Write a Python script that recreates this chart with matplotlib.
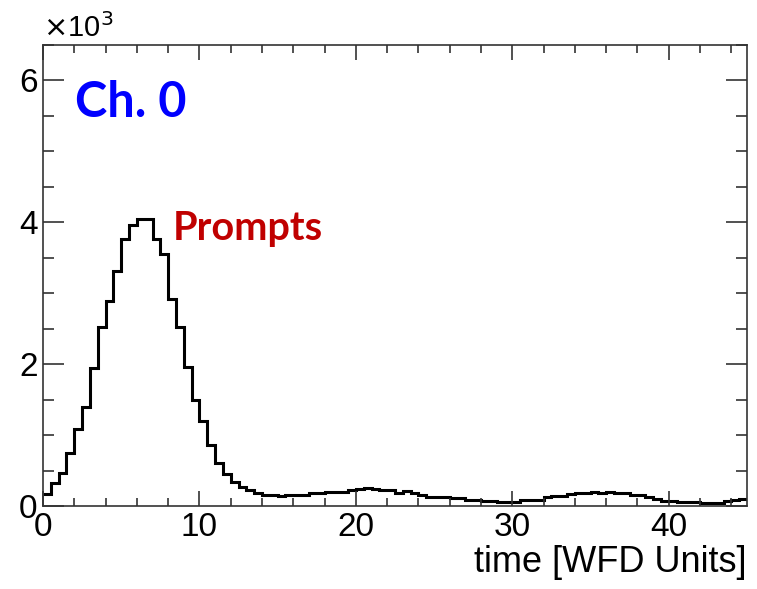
import numpy as np
import matplotlib
matplotlib.use("Agg")
import matplotlib.pyplot as plt
from matplotlib.ticker import MultipleLocator, FuncFormatter

# --- data: counts per 0.5-unit bin (in thousands) ---
x_min, x_max, n_bins = 0.0, 45.0, 90
counts_k = [
    0.17, 0.33, 0.46, 0.75, 1.09, 1.40, 1.94, 2.52, 2.89, 3.31,
    3.77, 3.96, 4.05, 4.05, 3.77, 3.56, 2.92, 2.52, 1.96, 1.49,
    1.20, 0.86, 0.60, 0.45, 0.34, 0.27, 0.22, 0.18, 0.16, 0.16,
    0.14, 0.15, 0.16, 0.16, 0.18, 0.18, 0.20, 0.20, 0.20, 0.23,
    0.24, 0.26, 0.24, 0.23, 0.23, 0.19, 0.21, 0.19, 0.15, 0.13,
    0.13, 0.12, 0.11, 0.11, 0.09, 0.08, 0.07, 0.07, 0.056, 0.056,
    0.056, 0.09, 0.085, 0.09, 0.12, 0.14, 0.14, 0.17, 0.19, 0.19,
    0.20, 0.19, 0.20, 0.18, 0.18, 0.16, 0.16, 0.13, 0.10, 0.075,
    0.075, 0.056, 0.056, 0.056, 0.047, 0.047, 0.047, 0.07, 0.085, 0.10,
]
counts = np.array(counts_k) * 1000
edges = np.linspace(x_min, x_max, n_bins + 1)

channel_label = "Ch. 0"
peak_label = "Prompts"
x_title = "time [WFD Units]"

plt.rcParams['font.family'] = ['Liberation Sans', 'DejaVu Sans']

fig = plt.figure(figsize=(7.57, 5.89), dpi=100)
ax = fig.add_axes([43 / 757, 1 - 506 / 589, (747 - 43) / 757, (506 - 45) / 589])

ax.stairs(counts, edges, baseline=None, color='black', linewidth=2.2)

ax.set_xlim(x_min, x_max)
ax.set_ylim(0, 6500)

# ROOT-like ticks on all sides, pointing in
ax.xaxis.set_major_locator(MultipleLocator(10))
ax.xaxis.set_minor_locator(MultipleLocator(2))
ax.yaxis.set_major_locator(MultipleLocator(2000))
ax.yaxis.set_minor_locator(MultipleLocator(500))
ax.yaxis.set_major_formatter(FuncFormatter(lambda v, p: f"{v / 1000:g}"))
ax.tick_params(axis='both', which='both', direction='in', top=True, right=True,
               labelsize=24, color='#333333', width=1.2)
ax.tick_params(axis='x', which='major', length=11, pad=4)
ax.tick_params(axis='x', which='minor', length=5.5)
ax.tick_params(axis='y', which='major', length=15, pad=4)
ax.tick_params(axis='y', which='minor', length=8)
for s in ax.spines.values():
    s.set_linewidth(1.2)
    s.set_color('#333333')

ax.set_xlabel(x_title, loc='right', fontsize=26, labelpad=2)

ax.text(0, 1.005, r"$\times$10$^{3}$", transform=ax.transAxes, fontsize=21,
        ha='left', va='bottom')

ax.text(75 / 757, 1 - 117 / 589, channel_label, transform=fig.transFigure,
        fontsize=35, fontweight='bold', color='#0000ff', family='Lato',
        ha='left', va='baseline')
ax.text(173 / 757, 1 - 240 / 589, peak_label, transform=fig.transFigure,
        fontsize=28.5, fontweight='bold', color='#c00000', family='Lato',
        ha='left', va='baseline')

fig.savefig("out.png", dpi=100)
